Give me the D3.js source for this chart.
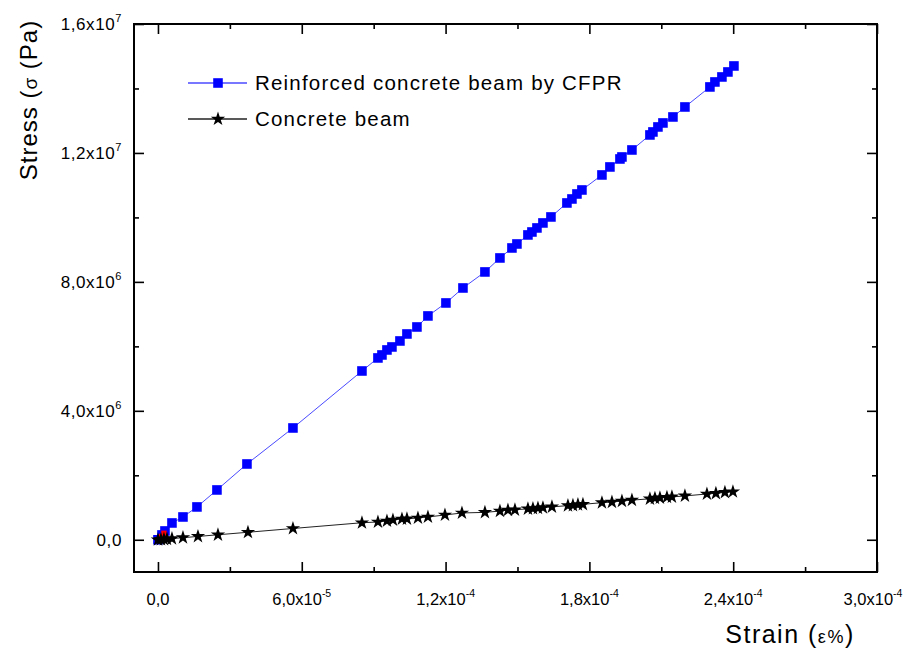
<!DOCTYPE html>
<html>
<head>
<meta charset="utf-8">
<script src="https://cdn.jsdelivr.net/npm/d3@7"></script>
<style>
  body { margin: 0; background: #fff; }
  text { font-family: Arial, "Liberation Sans", sans-serif; fill: #000; }
</style>
</head>
<body>
<div id="chart"></div>
<script>
// strain (e%) and stress (Pa)
const cfrpStrain = [0, 1.67e-6, 2.92e-6, 5.84e-6, 1.043e-5, 1.627e-5, 2.461e-5, 3.713e-5, 5.632e-5, 8.511e-5,
  9.178e-5, 9.345e-5, 9.554e-5, 9.762e-5, 1.0096e-4, 1.0388e-4, 1.0805e-4, 1.1264e-4, 1.2015e-4, 1.2725e-4,
  1.3642e-4, 1.4268e-4, 1.4769e-4, 1.4977e-4, 1.5436e-4, 1.5603e-4, 1.5812e-4, 1.6062e-4, 1.6396e-4, 1.7063e-4,
  1.7272e-4, 1.7481e-4, 1.7689e-4, 1.8524e-4, 1.8857e-4, 1.9275e-4, 1.9358e-4, 1.9775e-4, 2.0526e-4, 2.0651e-4,
  2.0860e-4, 2.1069e-4, 2.1486e-4, 2.1986e-4, 2.3029e-4, 2.3238e-4, 2.3530e-4, 2.3780e-4, 2.4031e-4];
const cfrpStress = [0, 1.49e5, 2.73e5, 5.21e5, 7.07e5, 1.018e6, 1.545e6, 2.351e6, 3.468e6, 5.236e6,
  5.640e6, 5.733e6, 5.888e6, 5.981e6, 6.167e6, 6.384e6, 6.601e6, 6.943e6, 7.346e6, 7.811e6,
  8.308e6, 8.742e6, 9.052e6, 9.176e6, 9.456e6, 9.548e6, 9.673e6, 9.828e6, 1.0014e7, 1.0448e7,
  1.0572e7, 1.0727e7, 1.0851e7, 1.1317e7, 1.1565e7, 1.1813e7, 1.1875e7, 1.2092e7, 1.2558e7, 1.2651e7,
  1.2806e7, 1.2930e7, 1.3116e7, 1.3426e7, 1.4047e7, 1.4202e7, 1.4357e7, 1.4512e7, 1.4698e7];

const concreteStrain = [0, 1.25e-6, 2.5e-6, 3.75e-6, 5.84e-6, 1.043e-5, 1.669e-5, 2.503e-5, 3.755e-5, 5.632e-5,
  8.511e-5, 9.178e-5, 9.554e-5, 9.804e-5, 1.018e-4, 1.0388e-4, 1.0847e-4, 1.1264e-4, 1.1974e-4, 1.2683e-4,
  1.3642e-4, 1.4268e-4, 1.4602e-4, 1.4894e-4, 1.5436e-4, 1.5645e-4, 1.5854e-4, 1.6062e-4, 1.6438e-4, 1.7105e-4,
  1.7314e-4, 1.7522e-4, 1.7731e-4, 1.8524e-4, 1.8941e-4, 1.9358e-4, 1.9775e-4, 2.0526e-4, 2.0735e-4, 2.0943e-4,
  2.1236e-4, 2.1444e-4, 2.1986e-4, 2.2904e-4, 2.3279e-4, 2.3655e-4, 2.3989e-4];
const concreteStress = [0, 8e3, 1.5e4, 2.3e4, 3.6e4, 6.5e4, 1.03e5, 1.55e5, 2.33e5, 3.5e5,
  5.28e5, 5.52e5, 5.83e5, 6.14e5, 6.45e5, 6.5e5, 6.76e5, 7.07e5, 7.69e5, 8.31e5,
  8.5e5, 8.9e5, 9.2e5, 9.3e5, 9.6e5, 9.7e5, 9.8e5, 9.95e5, 1.02e6, 1.06e6,
  1.07e6, 1.09e6, 1.10e6, 1.15e6, 1.17e6, 1.20e6, 1.23e6, 1.27e6, 1.29e6, 1.30e6,
  1.32e6, 1.33e6, 1.36e6, 1.42e6, 1.44e6, 1.47e6, 1.49e6];

// small red points hidden near the origin
const redStrain = [0, 1.5e-6, 2.5e-6];
const redStress = [0, 1.0e5, 2.0e5];

const xTicks = [0, 6e-5, 1.2e-4, 1.8e-4, 2.4e-4, 3e-4];
const xTickText = [["0,0", ""], ["6,0x10", "-5"], ["1,2x10", "-4"], ["1,8x10", "-4"], ["2,4x10", "-4"], ["3,0x10", "-4"]];
const xMinor = [3e-5, 9e-5, 1.5e-4, 2.1e-4, 2.7e-4];
const yTicks = [0, 4e6, 8e6, 1.2e7, 1.6e7];
const yTickText = [["0,0", ""], ["4,0x10", "6"], ["8,0x10", "6"], ["1,2x10", "7"], ["1,6x10", "7"]];
const yMinor = [2e6, 6e6, 1e7, 1.4e7];

const seriesNames = ["Reinforced concrete beam by CFPR", "Concrete beam"];

const W = 905, H = 648;
const margin = {top: 24, right: 28, bottom: 76, left: 134};
const width = W - margin.left - margin.right;
const height = H - margin.top - margin.bottom;

const svg = d3.select("#chart").append("svg")
  .attr("width", W).attr("height", H);
const g = svg.append("g").attr("transform", "translate(" + margin.left + "," + margin.top + ")");

const x = d3.scaleLinear().domain([-1e-5, 3e-4]).range([0, width]);
const y = d3.scaleLinear().domain([-1e6, 1.6e7]).range([height, 0]);

// ticks, all pointing inwards
function tickAxis(axisFn, scale, vals, size, tr) {
  g.append("g").attr("transform", tr)
    .call(axisFn(scale).tickValues(vals).tickSize(size).tickFormat(""))
    .call(s => s.select(".domain").remove())
    .selectAll("line").attr("stroke", "#000").attr("stroke-width", 1.6);
}
tickAxis(d3.axisBottom, x, xTicks, -10, "translate(0," + height + ")");
tickAxis(d3.axisBottom, x, xMinor, -5, "translate(0," + height + ")");
tickAxis(d3.axisTop, x, xTicks, -10, "translate(0,0)");
tickAxis(d3.axisTop, x, xMinor, -5, "translate(0,0)");
tickAxis(d3.axisLeft, y, yTicks, -10, "translate(0,0)");
tickAxis(d3.axisLeft, y, yMinor, -5, "translate(0,0)");
tickAxis(d3.axisRight, y, yTicks, -10, "translate(" + width + ",0)");
tickAxis(d3.axisRight, y, yMinor, -5, "translate(" + width + ",0)");

g.append("rect").attr("width", width).attr("height", height)
  .attr("fill", "none").attr("stroke", "#000").attr("stroke-width", 2);

// tick labels
xTicks.forEach((v, i) => {
  const t = g.append("text").attr("x", x(v) - (i === xTicks.length - 1 ? 4 : 0)).attr("y", height + 33)
    .attr("text-anchor", "middle").style("font-size", "16.5px");
  t.append("tspan").text(xTickText[i][0]);
  if (xTickText[i][1]) t.append("tspan").attr("dy", -8).style("font-size", "10.5px").text(xTickText[i][1]);
});
yTicks.forEach((v, i) => {
  const t = g.append("text").attr("x", -12).attr("y", y(v) + 6)
    .attr("text-anchor", "end").style("font-size", "17px").style("letter-spacing", "0.6px");
  t.append("tspan").text(yTickText[i][0]);
  if (yTickText[i][1]) t.append("tspan").attr("dy", -8).style("font-size", "11px").text(yTickText[i][1]);
});

// axis titles
const xt = svg.append("text").attr("x", 790).attr("y", 643)
  .attr("text-anchor", "middle").style("font-size", "25px").style("letter-spacing", "1.5px");
xt.append("tspan").text("Strain (");
xt.append("tspan").style("font-size", "18px").text("ε%");
xt.append("tspan").text(")");
const yt = svg.append("text").attr("transform", "translate(37,100) rotate(-90)")
  .attr("text-anchor", "middle").style("font-size", "24px").style("letter-spacing", "1px");
yt.append("tspan").text("Stress (");
yt.append("tspan").style("font-size", "19px").text("σ");
yt.append("tspan").text(" (Pa)");

const line = d3.line().x(d => x(d[0])).y(d => y(d[1]));
const cfrp = cfrpStrain.map((s, i) => [s, cfrpStress[i]]);
const conc = concreteStrain.map((s, i) => [s, concreteStress[i]]);
const red = redStrain.map((s, i) => [s, redStress[i]]);

const square = d3.symbol().type(d3.symbolSquare).size(92);
const star = d3.symbol().type(d3.symbolStar).size(64);

g.append("path").datum(cfrp).attr("d", line)
  .attr("fill", "none").attr("stroke", "#4a4aff").attr("stroke-width", 1);
g.selectAll(".sq").data(cfrp).enter().append("path").attr("class", "sq")
  .attr("transform", d => "translate(" + x(d[0]) + "," + y(d[1]) + ")")
  .attr("d", square).attr("fill", "#0000ff");
g.selectAll(".rd").data(red).enter().append("path").attr("class", "rd")
  .attr("transform", d => "translate(" + x(d[0]) + "," + y(d[1]) + ")")
  .attr("d", d3.symbol().type(d3.symbolSquare).size(30)).attr("fill", "#ff0000");
g.append("path").datum(conc).attr("d", line)
  .attr("fill", "none").attr("stroke", "#222").attr("stroke-width", 1);
g.selectAll(".st").data(conc).enter().append("path").attr("class", "st")
  .attr("transform", d => "translate(" + x(d[0]) + "," + y(d[1]) + ")")
  .attr("d", star).attr("fill", "#000");

// legend
const leg = svg.append("g");
[["#4a4aff", square, "#0000ff", 83], ["#222", star, "#000", 119]].forEach((o, i) => {
  leg.append("line").attr("x1", 188).attr("x2", 247).attr("y1", o[3]).attr("y2", o[3])
    .attr("stroke", o[0]).attr("stroke-width", 1.3);
  leg.append("path").attr("transform", "translate(218," + o[3] + ")").attr("d", o[1]).attr("fill", o[2]);
  leg.append("text").attr("x", 255).attr("y", o[3] + 7).style("font-size", "20.5px")
    .style("letter-spacing", "1.2px").text(seriesNames[i]);
});
</script>
</body>
</html>
